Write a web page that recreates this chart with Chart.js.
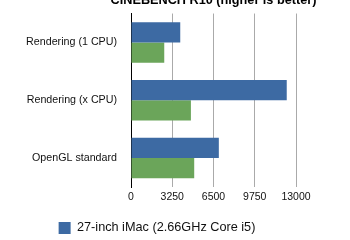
<!DOCTYPE html>
<html>
<head>
<meta charset="utf-8">
<script src="https://cdn.jsdelivr.net/npm/chart.js@4/dist/chart.umd.min.js"></script>
<style>
  html, body { margin: 0; padding: 0; background: #fff; overflow: hidden; }
  #wrap { position: relative; width: 350px; height: 240px; overflow: hidden; }
  #chart { position: absolute; left: 0; top: -7px; }
</style>
</head>
<body>
<div id="wrap"><canvas id="chart" width="350" height="274"></canvas></div>
<script>
const categories = ['Rendering (1 CPU)', 'Rendering (x CPU)', 'OpenGL standard'];
const imac27 = [3880, 12270, 6920];
const imacOld = [2620, 4720, 4980];
const xTicks = [0, 3250, 6500, 9750, 13000];

const font = 'Liberation Sans, Arial, Helvetica, sans-serif';

// the title box only spans the chart area, widen it so the text is not squeezed
const wideTitle = {
    id: 'wideTitle',
    afterLayout(chart) {
        const t = chart.titleBlock;
        if (t) { t.left -= 60; t.right += 60; }
    }
};

const ctx = document.getElementById('chart');
new Chart(ctx, {
    type: 'bar',
    data: {
        labels: categories,
        datasets: [
            {
                label: '27-inch iMac (2.66GHz Core i5)',
                data: imac27,
                backgroundColor: '#3d6aa3',
                categoryPercentage: 0.7,
                barPercentage: 1.0
            },
            {
                label: '21.5-inch iMac (3.06GHz Core 2 Duo)',
                data: imacOld,
                backgroundColor: '#6ba55a',
                categoryPercentage: 0.7,
                barPercentage: 1.0
            }
        ]
    },
    options: {
        indexAxis: 'y',
        responsive: false,
        animation: false,
        layout: { padding: { left: 18, right: 54, top: 0, bottom: 0 } },
        plugins: {
            title: {
                display: true,
                text: 'CINEBENCH R10 (higher is better)',
                fullSize: false,
                color: '#000',
                font: { family: font, size: 12.7, weight: 'bold' },
                padding: { top: 0, bottom: 5.3 }
            },
            legend: {
                position: 'bottom',
                labels: {
                    color: '#111',
                    boxWidth: 12,
                    boxHeight: 12,
                    font: { family: font, size: 12.7 }
                }
            },
            tooltip: { enabled: false }
        },
        scales: {
            x: {
                min: 0,
                max: 13000,
                afterBuildTicks: s => { s.ticks = xTicks.map(v => ({ value: v })); },
                afterFit: s => { s.height += 4; },
                grid: { color: '#aaa', drawTicks: false },
                border: { display: false },
                ticks: {
                    color: '#111',
                    padding: 4,
                    font: { family: font, size: 10.5 },
                    callback: v => String(v)
                }
            },
            y: {
                afterFit: s => { s.width = 113; },
                grid: { display: false, drawTicks: false },
                border: { display: true, color: '#000', width: 1 },
                ticks: {
                    color: '#111',
                    padding: 14,
                    font: { family: font, size: 10.7 }
                }
            }
        }
    },
    plugins: [wideTitle]
});
</script>
</body>
</html>
